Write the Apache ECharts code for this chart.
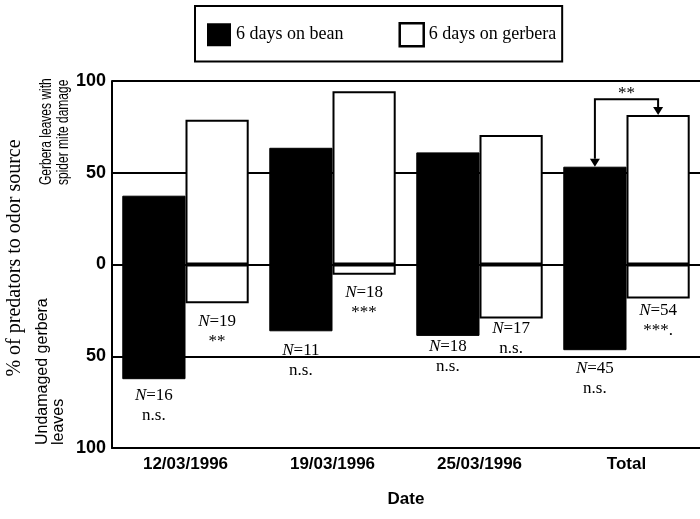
<!DOCTYPE html>
<html>
<head>
<meta charset="utf-8">
<script src="https://cdn.jsdelivr.net/npm/echarts@6/dist/echarts.min.js"></script>
<style>
  html, body { margin: 0; padding: 0; background: #fff; }
  #chart { width: 700px; height: 519px; }
</style>
</head>
<body>
<div id="chart"></div>
<script>
// Choice of odor source by predators, per test date and pooled.
// Positive part of each bar: % choosing spider-mite damaged gerbera leaves;
// negative part: % choosing undamaged gerbera leaves.
const categories = ['12/03/1996', '19/03/1996', '25/03/1996', 'Total'];

const beanDamaged      = [37.5, 63.6, 61.1, 53.3];
const beanUndamaged    = [62.5, 36.4, 38.9, 46.7];
const gerberaDamaged   = [78.9, 94.4, 70.6, 81.5];
const gerberaUndamaged = [21.1, 5.6, 29.4, 18.5];

const beanN    = [16, 11, 18, 45];
const gerberaN = [19, 18, 17, 54];
const beanSig    = ['n.s.', 'n.s.', 'n.s.', 'n.s.'];
const gerberaSig = ['**', '***', 'n.s.', '***.'];

// Comparison between the two pooled groups
const totalIndex = 3;
const totalBracketLevel = 90;
const totalBracketSig = '**';

const yTicks = [-100, -50, 0, 50, 100];

// layout: gap (px) between each bar's lower end and its N / significance label,
// chosen so the labels sit clear of the grid lines
const beanLabelGap    = [6, 9, 1, 8];
const gerberaLabelGap = [8, 8, 0, 2];

const BAR_FRACTION = 0.43;
const serif = '"Liberation Serif", "Times New Roman", serif';
const sans = '"Liberation Sans", Arial, Helvetica, sans-serif';

const labelRich = {
  it: { fontFamily: serif, fontSize: 17, fontStyle: 'italic', color: '#000', lineHeight: 20 },
  n:  { fontFamily: serif, fontSize: 17, color: '#000', lineHeight: 20 }
};

function lowerPart(values, nArr, sigArr, gaps) {
  return values.map((v, i) => ({
    value: -v,
    label: {
      show: true,
      position: 'bottom',
      distance: gaps[i],
      align: 'center',
      formatter: '{it|N}{n|=' + nArr[i] + '}\n{n|' + sigArr[i] + '}',
      rich: labelRich
    }
  }));
}

const chart = echarts.init(document.getElementById('chart'), null, { renderer: 'canvas' });

const barCommon = { type: 'bar', barWidth: (BAR_FRACTION * 100) + '%', barGap: '0%' };
const beanStyle = { color: '#000', borderColor: '#000', borderWidth: 1 };
const gerberaStyle = { color: '#fff', borderColor: '#000', borderWidth: 2 };

chart.setOption({
  backgroundColor: '#fff',
  animation: false,
  grid: { left: 112, top: 81, width: 594, height: 367, containLabel: false },
  legend: {
    left: 195,
    top: 6,
    padding: [16, 6, 14, 12],
    itemWidth: 24,
    itemHeight: 23,
    itemGap: 55,
    borderColor: '#000',
    borderWidth: 2,
    selectedMode: false,
    textStyle: { fontFamily: serif, fontSize: 18, color: '#000' },
    data: [
      { name: '6 days on bean', icon: 'rect', itemStyle: { color: '#000', borderWidth: 0 } },
      { name: '6 days on gerbera', icon: 'rect', itemStyle: { color: '#fff', borderColor: '#000', borderWidth: 2.5 } }
    ]
  },
  xAxis: {
    type: 'category',
    data: categories,
    axisLine: { onZero: false, lineStyle: { color: '#000', width: 2 } },
    axisTick: { show: false },
    axisLabel: { color: '#000', fontFamily: sans, fontWeight: 'bold', fontSize: 17, margin: 8 },
    name: 'Date',
    nameLocation: 'middle',
    nameGap: 43,
    nameTextStyle: { color: '#000', fontFamily: sans, fontWeight: 'bold', fontSize: 17 }
  },
  yAxis: {
    type: 'value',
    min: yTicks[0],
    max: yTicks[yTicks.length - 1],
    interval: 50,
    axisLine: { show: true, lineStyle: { color: '#000', width: 2 } },
    axisTick: { show: false },
    axisLabel: {
      color: '#000', fontFamily: sans, fontWeight: 'bold', fontSize: 18, margin: 6,
      formatter: v => String(Math.abs(v))
    },
    splitLine: { show: true, lineStyle: { color: '#000', width: 2 } }
  },
  series: [
    Object.assign({ name: '6 days on bean', stack: 'bean', data: beanDamaged, itemStyle: beanStyle }, barCommon),
    Object.assign({ name: '6 days on bean', stack: 'bean',
      data: lowerPart(beanUndamaged, beanN, beanSig, beanLabelGap), itemStyle: beanStyle }, barCommon),
    Object.assign({ name: '6 days on gerbera', stack: 'gerbera', data: gerberaDamaged, itemStyle: gerberaStyle }, barCommon),
    Object.assign({ name: '6 days on gerbera', stack: 'gerbera',
      data: lowerPart(gerberaUndamaged, gerberaN, gerberaSig, gerberaLabelGap), itemStyle: gerberaStyle }, barCommon),
    {
      // bracket comparing the pooled bean and gerbera groups
      type: 'custom',
      z: 5,
      silent: true,
      data: [[totalIndex, beanDamaged[totalIndex], gerberaDamaged[totalIndex], totalBracketLevel]],
      encode: { x: 0, y: 3 },
      renderItem: function (params, api) {
        const idx = api.value(0);
        const top = api.coord([idx, api.value(3)]);
        const bw = api.size([1, 0])[0] * BAR_FRACTION;
        const x1 = top[0] - bw / 2;
        const x2 = top[0] + bw / 2;
        const yL = top[1];
        const y1 = api.coord([idx, api.value(1)])[1];
        const y2 = api.coord([idx, api.value(2)])[1];
        const ah = 8, aw = 5;
        const line = { stroke: '#000', lineWidth: 2, fill: null };
        return {
          type: 'group',
          children: [
            { type: 'polyline', shape: { points: [[x1, y1 - ah], [x1, yL], [x2, yL], [x2, y2 - ah]] }, style: line },
            { type: 'polygon', shape: { points: [[x1 - aw, y1 - ah], [x1 + aw, y1 - ah], [x1, y1]] }, style: { fill: '#000' } },
            { type: 'polygon', shape: { points: [[x2 - aw, y2 - ah], [x2 + aw, y2 - ah], [x2, y2]] }, style: { fill: '#000' } },
            { type: 'text', x: top[0], y: yL - 6, style: { text: totalBracketSig, font: '17px ' + serif, fill: '#000', align: 'center', verticalAlign: 'middle' } }
          ]
        };
      }
    }
  ],
  graphic: [
    {
      type: 'text', x: 15, y: 258, rotation: Math.PI / 2,
      style: { text: '% of predators to odor source', font: '20px ' + serif, fill: '#000', align: 'center', verticalAlign: 'middle' }
    },
    {
      type: 'text', x: 38, y: 185, rotation: Math.PI / 2, scaleX: 0.75,
      style: { text: 'Gerbera leaves with\nspider mite damage', font: '16px ' + sans, lineHeight: 17, fill: '#000', align: 'left', verticalAlign: 'top' }
    },
    {
      type: 'text', x: 35, y: 445, rotation: Math.PI / 2,
      style: { text: 'Undamaged gerbera\nleaves', font: '16px ' + sans, lineHeight: 16, fill: '#000', align: 'left', verticalAlign: 'top' }
    }
  ]
});
</script>
</body>
</html>
